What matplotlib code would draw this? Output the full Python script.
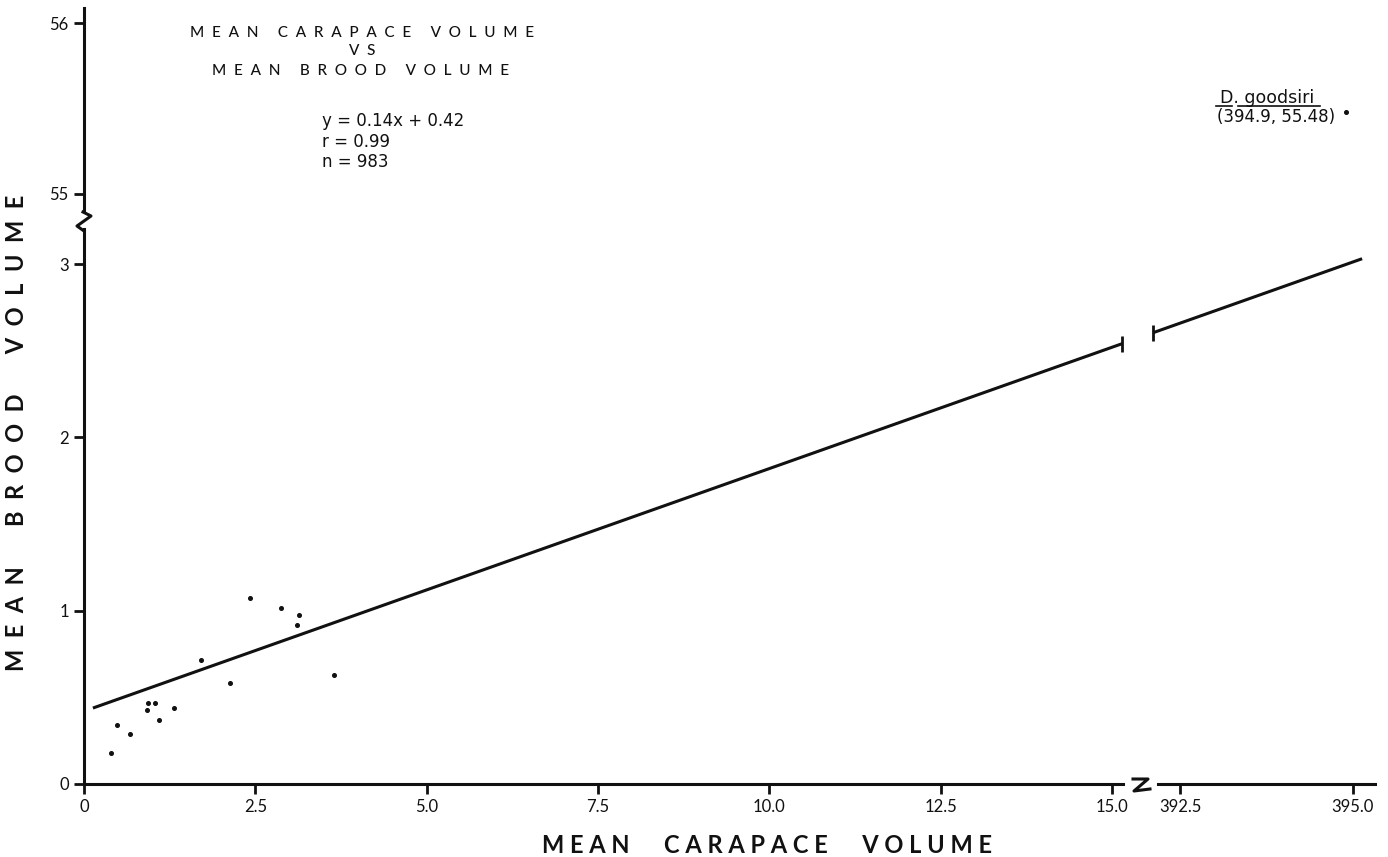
import matplotlib
matplotlib.use("Agg")
import matplotlib.pyplot as plt
from matplotlib.lines import Line2D
import numpy as np

# ---- data -------------------------------------------------------------
carapace = [0.40, 0.48, 0.67, 0.92, 0.93, 1.04, 1.10, 1.31, 1.71, 2.13,
            2.42, 2.88, 3.13, 3.11, 3.65]
brood = [0.181, 0.339, 0.289, 0.427, 0.469, 0.465, 0.371, 0.437, 0.715,
         0.581, 1.075, 1.017, 0.975, 0.917, 0.627]

goodsiri_x = 394.9
goodsiri_y = 55.48

slope = 0.14
intercept = 0.42
fit_segments = [(0.13, 15.15), (15.60, 18.65)]

x_ticks_low = [0, 2.5, 5.0, 7.5, 10.0, 12.5, 15.0]
x_ticks_high = [392.5, 395.0]
y_ticks_low = [0, 1, 2, 3]
y_ticks_high = [55, 56]

# ---- layout helpers -----------------------------------------------------
W, H = 1388, 857
plt.rcParams["font.family"] = ["Lato", "DejaVu Sans"]
fig = plt.figure(figsize=(W / 100, H / 100), dpi=100)
fig.patch.set_facecolor("white")

def fx(px):
    return px / W

def fy(py):
    return 1 - py / H

def box(l, t, r, b):
    return [fx(l), fy(b), (r - l) / W, (b - t) / H]

INK = "#111111"
LW = 2.2
TICK = dict(direction="out", length=7, width=2, colors=INK,
            labelsize=12, pad=4)
WIDE = ["DejaVu Sans"]

def bare(ax):
    for s in ax.spines.values():
        s.set_visible(False)
    ax.set_facecolor("none")

# lower-left panel: main data
ax = fig.add_axes(box(84, 229, 1123, 784))
bare(ax)
for s in ("left", "bottom"):
    ax.spines[s].set_visible(True)
    ax.spines[s].set_linewidth(LW)
    ax.spines[s].set_color(INK)
ax.set_xlim(0, 15.161)
ax.set_ylim(0, 3.2025)
ax.set_xticks(x_ticks_low)
ax.set_xticklabels(["0" if v == 0 else f"{v:.1f}" for v in x_ticks_low])
ax.set_yticks(y_ticks_low)
ax.set_yticklabels([str(v) for v in y_ticks_low])
ax.tick_params(**TICK)

ax.plot(carapace, brood, linestyle="none", marker="o", markersize=2.6,
        color=INK, clip_on=False)

for x0, x1 in fit_segments:
    xs = np.array([x0, x1])
    ax.plot(xs, slope * xs + intercept, color=INK, lw=LW,
            solid_capstyle="butt", clip_on=False)
# bar ends at the break in the fitted line
for xe in (fit_segments[0][1], fit_segments[1][0]):
    ax.plot([xe], [slope * xe + intercept], marker="|", markersize=12,
            markeredgewidth=2, color=INK, clip_on=False)

# upper-left panel: y axis continuation above the break
ax_up = fig.add_axes(box(84, 8, 1123, 211))
bare(ax_up)
ax_up.spines["left"].set_visible(True)
ax_up.spines["left"].set_linewidth(LW)
ax_up.spines["left"].set_color(INK)
ax_up.set_xlim(0, 15.161)
ax_up.set_ylim(54.90, 56.088)
ax_up.set_xticks([])
ax_up.set_yticks(y_ticks_high)
ax_up.set_yticklabels([str(v) for v in y_ticks_high])
ax_up.tick_params(**TICK)

# lower-right panel: x axis continuation beyond the break
ax_r = fig.add_axes(box(1158, 229, 1375, 784))
bare(ax_r)
ax_r.spines["bottom"].set_visible(True)
ax_r.spines["bottom"].set_linewidth(LW)
ax_r.spines["bottom"].set_color(INK)
ax_r.set_xlim(392.18, 395.32)
ax_r.set_ylim(0, 3.2025)
ax_r.set_xticks(x_ticks_high)
ax_r.set_xticklabels([f"{v:.1f}" for v in x_ticks_high])
ax_r.set_yticks([])
ax_r.tick_params(**TICK)

# upper-right panel: the outlying species
ax_tr = fig.add_axes(box(1158, 8, 1375, 211))
bare(ax_tr)
ax_tr.set_xlim(392.18, 395.32)
ax_tr.set_ylim(54.90, 56.088)
ax_tr.set_xticks([])
ax_tr.set_yticks([])
ax_tr.plot([goodsiri_x], [goodsiri_y], linestyle="none", marker="o",
           markersize=2.6, color=INK, clip_on=False)
ax_tr.annotate("D. goodsiri", (goodsiri_x, goodsiri_y),
               xytext=(-79, 9), textcoords="offset pixels",
               ha="center", va="baseline", fontsize=12.5, color=INK,
               family=WIDE)
ax_tr.annotate(f"({goodsiri_x}, {goodsiri_y})", (goodsiri_x, goodsiri_y),
               xytext=(-70, -10), textcoords="offset pixels",
               ha="center", va="baseline", fontsize=12, color=INK,
               family=WIDE)

def seg(pts, lw=1.2):
    fig.add_artist(Line2D([fx(p[0]) for p in pts], [fy(p[1]) for p in pts],
                          color=INK, lw=lw, transform=fig.transFigure))

# underline of the species name
seg([(1216, 106), (1232, 106)])
seg([(1238, 106), (1320, 106)])

# break marks on the axes
seg([(83, 212), (91, 216), (77, 226), (84, 231)], lw=2.2)
seg([(1133, 779), (1148, 779), (1134, 791), (1150, 789)], lw=2.2)

# ---- texts -------------------------------------------------------------
def spaced(s, gap=" ", word_gap="    "):
    return word_gap.join(gap.join(w) for w in s.split())

TITLE = dict(ha="center", va="baseline", fontsize=11, color=INK,
             fontweight="medium")
fig.text(fx(362), fy(37), spaced("MEAN CARAPACE VOLUME", gap="  ",
                                 word_gap="     "), **TITLE)
fig.text(fx(362), fy(55), spaced("VS", gap="  "), **TITLE)
fig.text(fx(361), fy(75), spaced("MEAN BROOD VOLUME", gap="  ",
                                 word_gap="     "), **TITLE)

fig.text(fx(322), fy(126), "y = 0.14x + 0.42", ha="left", va="baseline",
         fontsize=12, color=INK, family=WIDE)
fig.text(fx(322), fy(147), "r = 0.99", ha="left", va="baseline",
         fontsize=12, color=INK, family=WIDE)
fig.text(fx(322), fy(167), "n = 983", ha="left", va="baseline",
         fontsize=12, color=INK, family=WIDE)

fig.text(fx(767), fy(853), spaced("MEAN CARAPACE VOLUME", word_gap="      "),
         ha="center", va="baseline", fontsize=17, fontweight="bold",
         color=INK)
fig.text(fx(17), fy(433), spaced("MEAN BROOD VOLUME", gap="  ",
                                 word_gap="       "),
         ha="center", va="center", rotation=90, fontsize=17,
         fontweight="bold", color=INK)

fig.savefig("out.png", dpi=100, facecolor="white")
